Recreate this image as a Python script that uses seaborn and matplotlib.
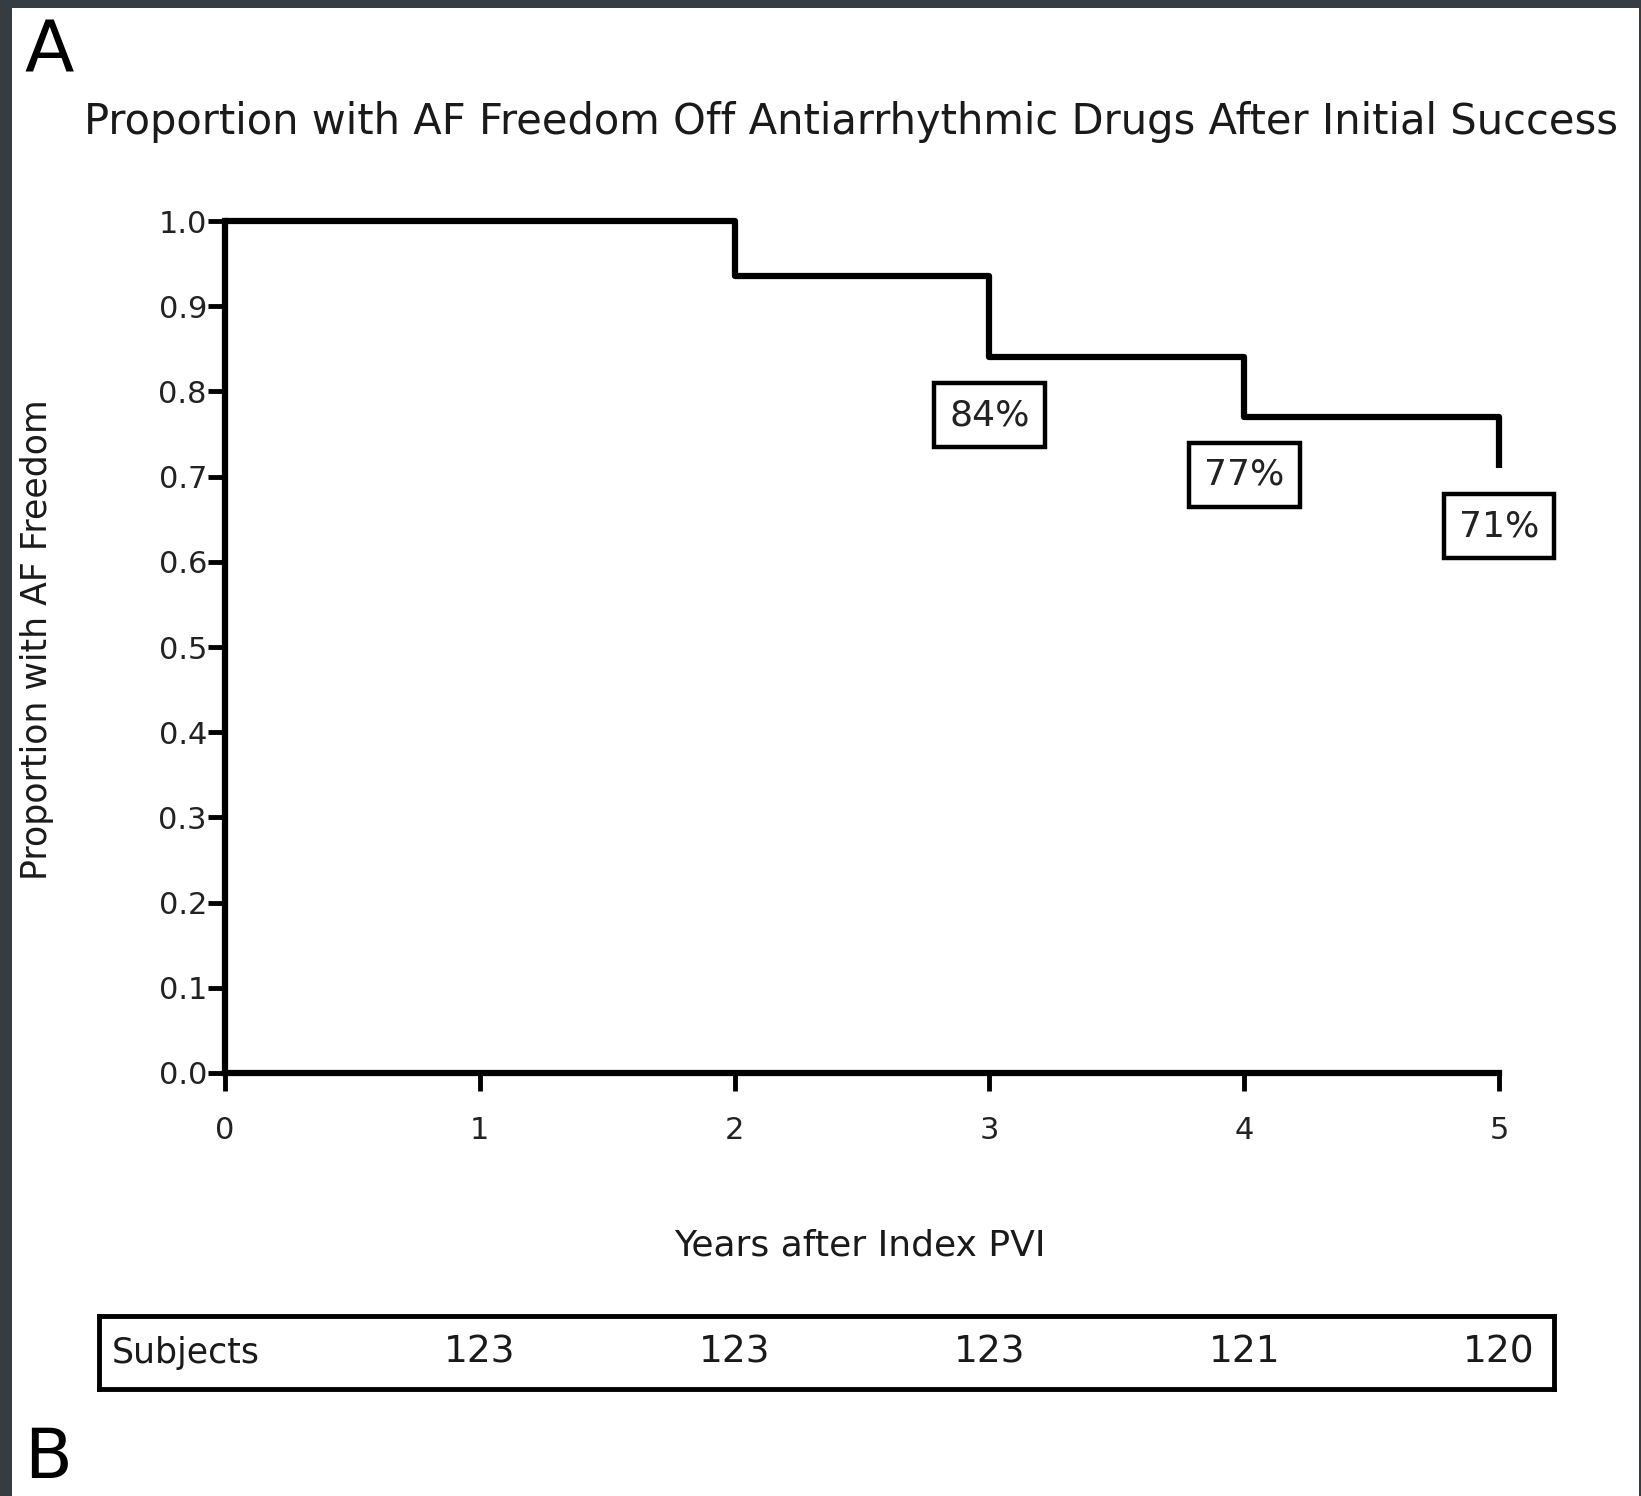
import matplotlib
matplotlib.use("Agg")
import matplotlib.pyplot as plt
import seaborn as sns
import pandas as pd
from matplotlib.patches import Rectangle

# ---- data ----
years = [0, 2, 3, 4, 5]
freedom = [1.0, 0.935, 0.84, 0.77, 0.71]
label_years = [3, 4, 5]
label_values = [0.84, 0.77, 0.71]
label_texts = ["84%", "77%", "71%"]
subject_years = [1, 2, 3, 4, 5]
subject_counts = ["123", "123", "123", "121", "120"]
x_ticks = [0, 1, 2, 3, 4, 5]
y_ticks = [0.0, 0.1, 0.2, 0.3, 0.4, 0.5, 0.6, 0.7, 0.8, 0.9, 1.0]

sns.set_style("white")
plt.rcParams['font.family'] = ['DejaVu Sans']

W, H = 1641, 1496
fig = plt.figure(figsize=(W / 100, H / 100), dpi=100)
fig.patch.set_facecolor("white")

def fx(px):
    return px / W

def fy(py):
    return 1 - py / H

ax_left, ax_right = 225, 1499
ax_top, ax_bot = 221, 1073
ax = fig.add_axes([fx(ax_left), fy(ax_bot), (ax_right - ax_left) / W, (ax_bot - ax_top) / H])
ax.set_facecolor("white")

df = pd.DataFrame({"Years": years, "Freedom": freedom})
sns.lineplot(data=df, x="Years", y="Freedom", drawstyle="steps-post", color="black",
             linewidth=4.5, ax=ax, clip_on=False, solid_capstyle="butt")

ax.set_xlim(0, 5)
ax.set_ylim(0, 1)
ax.set_xticks(x_ticks)
ax.set_xticklabels([str(t) for t in x_ticks])
ax.set_yticks(y_ticks)
ax.set_yticklabels([f"{t:.1f}" for t in y_ticks])
for s in ["top", "right"]:
    ax.spines[s].set_visible(False)
for s in ["left", "bottom"]:
    ax.spines[s].set_linewidth(4.5)
    ax.spines[s].set_color("black")
ax.tick_params(axis="x", direction="out", length=13, width=3.5, pad=18, labelsize=22, colors="black", labelcolor="#222222")
ax.tick_params(axis="y", direction="out", length=12, width=3.5, pad=1, labelsize=22, colors="black", labelcolor="#222222")
ax.tick_params(bottom=True, left=True)
ax.set_xlabel("")
ax.set_ylabel("")

for xv, yv, t in zip(label_years, label_values, label_texts):
    ax.text(xv, yv - 0.068, t, ha="center", va="center", fontsize=26, color="#222222",
            bbox=dict(boxstyle="square,pad=0.42", facecolor="white", edgecolor="black", linewidth=3.2))

# titles and labels
fig.text(fx(84), fy(134), "Proportion with AF Freedom Off Antiarrhythmic Drugs After Initial Success",
         ha="left", va="baseline", fontsize=30, color="#1a1a1a")
fig.text(fx(37), fy(640), "Proportion with AF Freedom", rotation=90, ha="center", va="center",
         fontsize=25, color="#1a1a1a")
fig.text(fx(860), fy(1245), "Years after Index PVI", ha="center", va="center", fontsize=26, color="#1a1a1a")
fig.text(fx(24), fy(72), "A", ha="left", va="baseline", fontsize=52, color="black")
fig.text(fx(24), fy(1478), "B", ha="left", va="baseline", fontsize=50, color="black")

# subjects table
t_left, t_right, t_top, t_bot = 99, 1554, 1316, 1389
tax = fig.add_axes([fx(t_left), fy(t_bot), (t_right - t_left) / W, (t_bot - t_top) / H])
unit = (ax_right - ax_left) / 5.0
tax.set_xlim((t_left - ax_left) / unit, (t_right - ax_left) / unit)
tax.set_ylim(0, 1)
tax.set_xticks([])
tax.set_yticks([])
for s in tax.spines.values():
    s.set_visible(True)
    s.set_linewidth(3.5)
    s.set_color("black")
tax.text((t_left - ax_left) / unit + 0.05, 0.5, "Subjects", ha="left", va="center", fontsize=25, color="#1a1a1a")
for xv, c in zip(subject_years, subject_counts):
    tax.text(xv, 0.5, c, ha="center", va="center", fontsize=27, color="#1a1a1a")

# dark frame edges
frame_col = "#353c42"
fig.add_artist(Rectangle((0, fy(8)), 1, 8 / H, transform=fig.transFigure, facecolor=frame_col, edgecolor="none"))
fig.add_artist(Rectangle((0, 0), 12 / W, 1, transform=fig.transFigure, facecolor=frame_col, edgecolor="none"))
fig.add_artist(Rectangle((1 - 2 / W, 0), 2 / W, 1, transform=fig.transFigure, facecolor=frame_col, edgecolor="none"))

fig.savefig("out.png", dpi=100, facecolor="white")
